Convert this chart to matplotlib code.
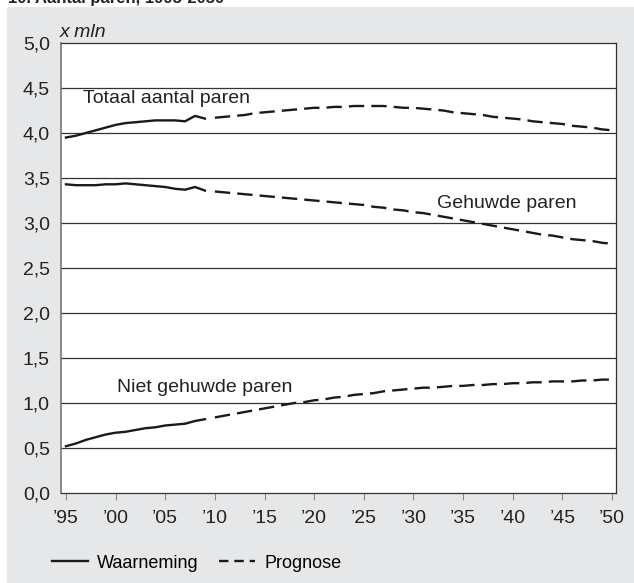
import matplotlib
matplotlib.use("Agg")
import matplotlib.pyplot as plt
from matplotlib.lines import Line2D
from matplotlib.patches import Rectangle

plt.rcParams['font.family'] = ['Liberation Sans', 'DejaVu Sans']

# observed values (Waarneming), 1995-2009
obs_years = list(range(1995, 2010))
obs_totaal = [3.95, 3.97, 4.00, 4.03, 4.06, 4.09, 4.11, 4.12, 4.13, 4.14,
              4.14, 4.14, 4.13, 4.19, 4.16]
obs_gehuwd = [3.43, 3.42, 3.42, 3.42, 3.43, 3.43, 3.44, 3.43, 3.42, 3.41,
              3.40, 3.38, 3.37, 3.40, 3.36]
obs_niet = [0.52, 0.55, 0.59, 0.62, 0.65, 0.67, 0.68, 0.70, 0.72, 0.73,
            0.75, 0.76, 0.77, 0.80, 0.82]

# prognosis values (Prognose), 2009-2050
prog_years = list(range(2009, 2051))
prog_totaal = [4.16, 4.17, 4.18, 4.19, 4.20, 4.22, 4.23, 4.24, 4.25, 4.26,
               4.27, 4.28, 4.28, 4.29, 4.29, 4.30, 4.30, 4.30, 4.30, 4.29,
               4.28, 4.28, 4.27, 4.26, 4.25, 4.23, 4.22, 4.21, 4.20, 4.18,
               4.17, 4.16, 4.15, 4.13, 4.12, 4.11, 4.10, 4.08, 4.07, 4.06,
               4.04, 4.03]
prog_gehuwd = [3.36, 3.35, 3.34, 3.33, 3.32, 3.31, 3.30, 3.29, 3.28, 3.27,
               3.26, 3.25, 3.24, 3.23, 3.22, 3.21, 3.20, 3.18, 3.17, 3.15,
               3.14, 3.12, 3.11, 3.09, 3.07, 3.05, 3.03, 3.01, 2.99, 2.97,
               2.95, 2.93, 2.91, 2.89, 2.87, 2.86, 2.84, 2.82, 2.81, 2.80,
               2.78, 2.77]
prog_niet = [0.82, 0.84, 0.86, 0.88, 0.90, 0.92, 0.94, 0.96, 0.98, 1.00,
             1.01, 1.03, 1.04, 1.06, 1.07, 1.09, 1.10, 1.11, 1.13, 1.14,
             1.15, 1.16, 1.17, 1.17, 1.18, 1.19, 1.19, 1.20, 1.20, 1.21,
             1.21, 1.22, 1.22, 1.23, 1.23, 1.24, 1.24, 1.24, 1.25, 1.25,
             1.26, 1.26]

x_ticks = list(range(1995, 2051, 5))
x_labels = ["\u2019" + str(y)[2:] for y in x_ticks]
y_ticks = [i * 0.5 for i in range(11)]
y_labels = [f"{v:.1f}".replace(".", ",") for v in y_ticks]

FS = 14
W, H = 634, 583
fig = plt.figure(figsize=(W / 100, H / 100), dpi=100)
fig.patch.set_facecolor("white")
fig.add_artist(Rectangle((7 / W, 0), 1, 1 - 7 / H, transform=fig.transFigure,
                         facecolor="#e6e7e8", edgecolor="none", zorder=0))
# title is cut off at the top edge in the original as well
fig.text(8 / W, 1 - 3 / H, "10. Aantal paren, 1995-2050", fontsize=12,
         fontweight="bold", va="baseline", ha="left", color="#222222")

ax = fig.add_axes([61 / W, 90 / H, 555 / W, 450 / H])
ax.set_facecolor("white")

dash = (6.5, 3)
lw = 1.7
for obs, prog in [(obs_totaal, prog_totaal), (obs_gehuwd, prog_gehuwd),
                  (obs_niet, prog_niet)]:
    ax.plot(obs_years, obs, color="#1a1a1a", lw=lw, solid_joinstyle="round")
    ax.plot(prog_years[1:], prog[1:], color="#1a1a1a", lw=lw,
            dashes=dash)

for v in y_ticks[1:-1]:
    ax.axhline(v, color="#333333", lw=0.9, zorder=0)

ax.set_xlim(1994.5, 2050.4)
ax.set_ylim(0, 5)
ax.set_xticks(x_ticks)
ax.set_xticklabels(x_labels, fontsize=FS, color="#222222")
ax.set_yticks(y_ticks)
ax.set_yticklabels(y_labels, fontsize=FS, color="#222222")
ax.tick_params(axis="x", direction="out", length=5, width=0.8,
               color="#888888", pad=7)
ax.tick_params(axis="y", length=0, pad=8)
for side in ["top", "right", "bottom"]:
    ax.spines[side].set_color("#333333")
    ax.spines[side].set_linewidth(0.9)
ax.spines["left"].set_color("#777777")
ax.spines["left"].set_linewidth(1.2)

ax.text(1996.7, 4.38, "Totaal aantal paren", fontsize=FS, va="center",
        color="#222222")
ax.text(2032.4, 3.22, "Gehuwde paren", fontsize=FS, va="center",
        color="#222222")
ax.text(2000.1, 1.17, "Niet gehuwde paren", fontsize=FS, va="center",
        color="#222222")
ax.text(1994.4, 5.02, "x mln", fontsize=FS, style="italic",
        va="bottom", ha="left", color="#222222")

handles = [Line2D([], [], color="#1a1a1a", lw=lw),
           Line2D([], [], color="#1a1a1a", lw=lw, dashes=(4, 2.5))]
fig.legend(handles, ["Waarneming", "Prognose"], loc="center left",
           bbox_to_anchor=(36 / W, 1 - 563 / H), ncol=2, frameon=False,
           fontsize=13, handlelength=2.0, handletextpad=0.5,
           columnspacing=1.1)

fig.savefig("out.png", dpi=100, facecolor=fig.get_facecolor())
